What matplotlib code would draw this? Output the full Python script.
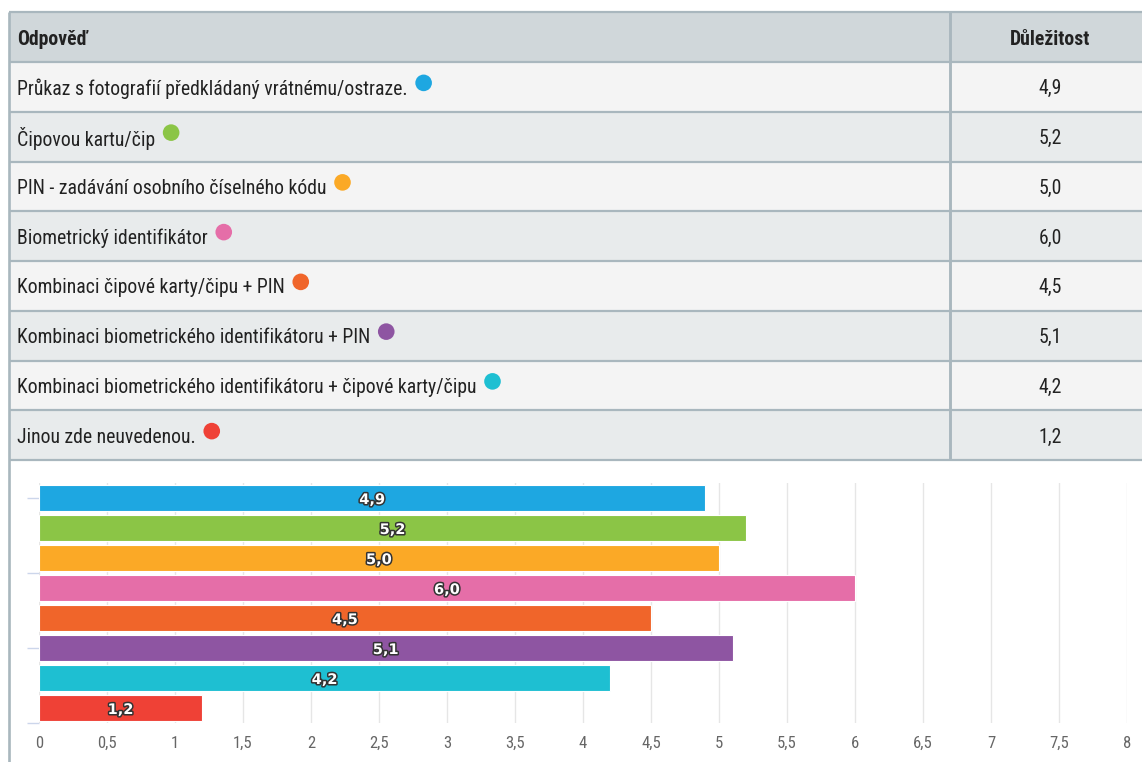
import matplotlib
matplotlib.use('Agg')
import matplotlib.pyplot as plt
from matplotlib.patches import Rectangle, Circle
import matplotlib.patheffects as pe
from matplotlib import font_manager

# ---------------- data ----------------
header_left = "Odpověď"
header_right = "Důležitost"
categories = [
    "Průkaz s fotografií předkládaný vrátnému/ostraze.",
    "Čipovou kartu/čip",
    "PIN - zadávání osobního číselného kódu",
    "Biometrický identifikátor",
    "Kombinaci čipové karty/čipu + PIN",
    "Kombinaci biometrického identifikátoru + PIN",
    "Kombinaci biometrického identifikátoru + čipové karty/čipu",
    "Jinou zde neuvedenou.",
]
values = [4.9, 5.2, 5.0, 6.0, 4.5, 5.1, 4.2, 1.2]
value_labels = ["4,9", "5,2", "5,0", "6,0", "4,5", "5,1", "4,2", "1,2"]
colors = ["#1ea7e1", "#8bc546", "#fba926", "#e56ea8",
          "#f0652a", "#8e55a2", "#1ebfd2", "#ef4136"]
x_ticks = [0, 0.5, 1, 1.5, 2, 2.5, 3, 3.5, 4, 4.5, 5, 5.5, 6, 6.5, 7, 7.5, 8]
x_tick_labels = ["0", "0,5", "1", "1,5", "2", "2,5", "3", "3,5", "4",
                 "4,5", "5", "5,5", "6", "6,5", "7", "7,5", "8"]

# ---------------- fonts ----------------
avail = {f.name for f in font_manager.fontManager.ttflist}
fam = [f for f in ["Liberation Sans Narrow", "Roboto Condensed", "DejaVu Sans"] if f in avail] or ["DejaVu Sans"]
plt.rcParams['font.family'] = fam + (["DejaVu Sans"] if "DejaVu Sans" not in fam else [])

W, H = 1142, 762
fig = plt.figure(figsize=(W / 100, H / 100), dpi=100)
fig.patch.set_facecolor("white")

bg = fig.add_axes([0, 0, 1, 1])
bg.set_xlim(0, W)
bg.set_ylim(H, 0)
bg.axis("off")

border = "#a9b7be"
TOP = 12.0
HDR = 50.0
ROW = 49.75
LEFT = 9.0
DIV = 950.0
n = len(categories)
table_bottom = TOP + HDR + ROW * n

# header background
bg.add_patch(Rectangle((LEFT, TOP), W - LEFT + 10, HDR, facecolor="#d0d7da", edgecolor="none"))
for i in range(n):
    y0 = TOP + HDR + ROW * i
    fc = "#f4f4f4" if i % 2 == 0 else "#e8ebec"
    bg.add_patch(Rectangle((LEFT, y0), W - LEFT + 10, ROW, facecolor=fc, edgecolor="none"))

# borders
lw = 1.6
for k in range(n + 2):
    y = TOP + (HDR + ROW * (k - 1) if k > 0 else 0)
    bg.plot([LEFT, W + 5], [y, y], color=border, lw=lw, solid_capstyle="butt")
bg.plot([LEFT, LEFT], [TOP, H + 5], color=border, lw=lw * 1.2, solid_capstyle="butt")
bg.plot([DIV, DIV], [TOP, table_bottom], color=border, lw=lw * 1.3, solid_capstyle="butt")

txt_color = "#222222"
fs = 14.2
bg.text(17, TOP + HDR / 2 + 2.5, header_left, ha="left", va="center", fontsize=fs,
        fontweight="bold", color=txt_color)
bg.text(1050, TOP + HDR / 2 + 2.5, header_right, ha="center", va="center", fontsize=fs,
        fontweight="bold", color=txt_color)

texts = []
for i, (cat, lab) in enumerate(zip(categories, value_labels)):
    yc = TOP + HDR + ROW * i + ROW / 2 + 2
    t = bg.text(17, yc, cat, ha="left", va="center", fontsize=fs, color=txt_color)
    texts.append((t, yc))
    bg.text(1050, yc, lab, ha="center", va="center", fontsize=fs, color=txt_color)

fig.canvas.draw()
renderer = fig.canvas.get_renderer()
inv = bg.transData.inverted()
for (t, yc), c in zip(texts, colors):
    bb = t.get_window_extent(renderer)
    x1, _ = inv.transform((bb.x1, bb.y0))
    bg.add_patch(Circle((x1 + 16, yc - 6), 8.3, facecolor=c, edgecolor="none"))

# ---------------- chart ----------------
ax_left, ax_right, ax_top, ax_bot = 39, 1127, 483, 723
ax = fig.add_axes([ax_left / W, 1 - ax_bot / H, (ax_right - ax_left) / W, (ax_bot - ax_top) / H])
ax.set_facecolor("none")
ypos = list(range(n))
ax.barh(ypos, values, height=0.88, color=colors, edgecolor="white", linewidth=0.8, zorder=3)
ax.set_xlim(0, 8)
ax.set_ylim(n - 0.5, -0.5)
ax.set_xticks(x_ticks)
ax.set_xticklabels(x_tick_labels)
ax.xaxis.grid(True, color="#e6e6e6", linewidth=1.0, zorder=0)
ax.set_axisbelow(True)
for s in ax.spines.values():
    s.set_visible(False)
ax.tick_params(axis="x", length=0, pad=9, labelsize=12, labelcolor="#666666")
ax.set_yticks([0, 2.5, 5, 7.5])
ax.set_yticklabels([])
ax.tick_params(axis="y", length=9, width=1, color="#ccd6eb", direction="out")

for i, (v, lab) in enumerate(zip(values, value_labels)):
    ax.text(v / 2, i + 0.05, lab, ha="center", va="center", color="white", fontsize=10.5,
            fontweight="bold", family="DejaVu Sans", zorder=5,
            path_effects=[pe.withStroke(linewidth=2.2, foreground="#333333")])

fig.savefig("out.png", dpi=100, facecolor="white")
